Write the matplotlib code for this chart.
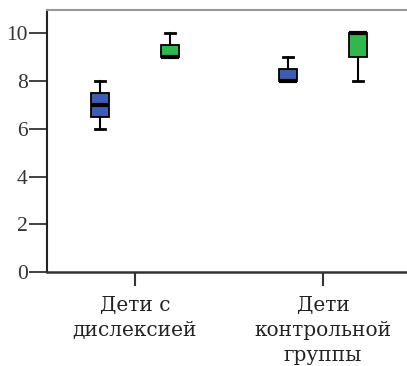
import matplotlib
matplotlib.use('Agg')
import matplotlib.pyplot as plt

# Data
groups = ['Дети с\nдислексией', 'Дети\nконтрольной\nгруппы']
series_colors = ['#3f5cb4', '#2fb84c']

# blue series (per group): whisker low, q1, median, q3, whisker high
blue_lo = [6, 8]
blue_q1 = [6.5, 8]
blue_med = [7, 8]
blue_q3 = [7.5, 8.5]
blue_hi = [8, 9]

# green series
green_lo = [9, 8]
green_q1 = [9, 9]
green_med = [9, 10]
green_q3 = [9.5, 10]
green_hi = [10, 10]

plt.rcParams['font.family'] = ['Liberation Serif', 'DejaVu Serif']

fig = plt.figure(figsize=(4.07, 3.66), dpi=100)
ax = fig.add_axes([47/407, 94/366, 360/407, 262.5/366])

offset = 0.186
width = 0.096
series = [
    (blue_lo, blue_q1, blue_med, blue_q3, blue_hi),
    (green_lo, green_q1, green_med, green_q3, green_hi),
]
for s, (lo, q1, med, q3, hi) in enumerate(series):
    stats = []
    for i in range(len(groups)):
        stats.append({'whislo': lo[i], 'q1': q1[i], 'med': med[i],
                      'q3': q3[i], 'whishi': hi[i], 'fliers': []})
    pos = [i + 1 + (offset if s else -offset) for i in range(len(groups))]
    ax.bxp(stats, positions=pos, widths=width, patch_artist=True,
           showfliers=False, capwidths=0.055,
           boxprops=dict(facecolor=series_colors[s], edgecolor='black', linewidth=1.3),
           medianprops=dict(color='black', linewidth=3, solid_capstyle='butt'),
           whiskerprops=dict(color='black', linewidth=1.5),
           capprops=dict(color='black', linewidth=2))

ax.set_xlim(0.532, 2.447)
ax.set_ylim(0, 11)
ax.set_xticks([1, 2])
ax.set_xticklabels(groups, fontsize=14.5, color='#222222', linespacing=1.38,
                   family=['DejaVu Serif'])
ax.set_yticks([0, 2, 4, 6, 8, 10])
ax.set_yticklabels(['0', '2', '4', '6', '8', '10'], fontsize=15.5, color='#333333')
ax.tick_params(axis='y', length=13, width=1.3, pad=1, color='#333333')
ax.tick_params(axis='x', length=10, width=1.5, pad=7.5, color='#333333')

ax.spines['right'].set_visible(False)
ax.spines['top'].set_color('#999999')
ax.spines['top'].set_linewidth(1.5)
ax.spines['left'].set_linewidth(1.5)
ax.spines['bottom'].set_linewidth(1.8)
ax.spines['left'].set_color('#222222')
ax.spines['bottom'].set_color('#333333')

fig.savefig('out.png', dpi=100)
